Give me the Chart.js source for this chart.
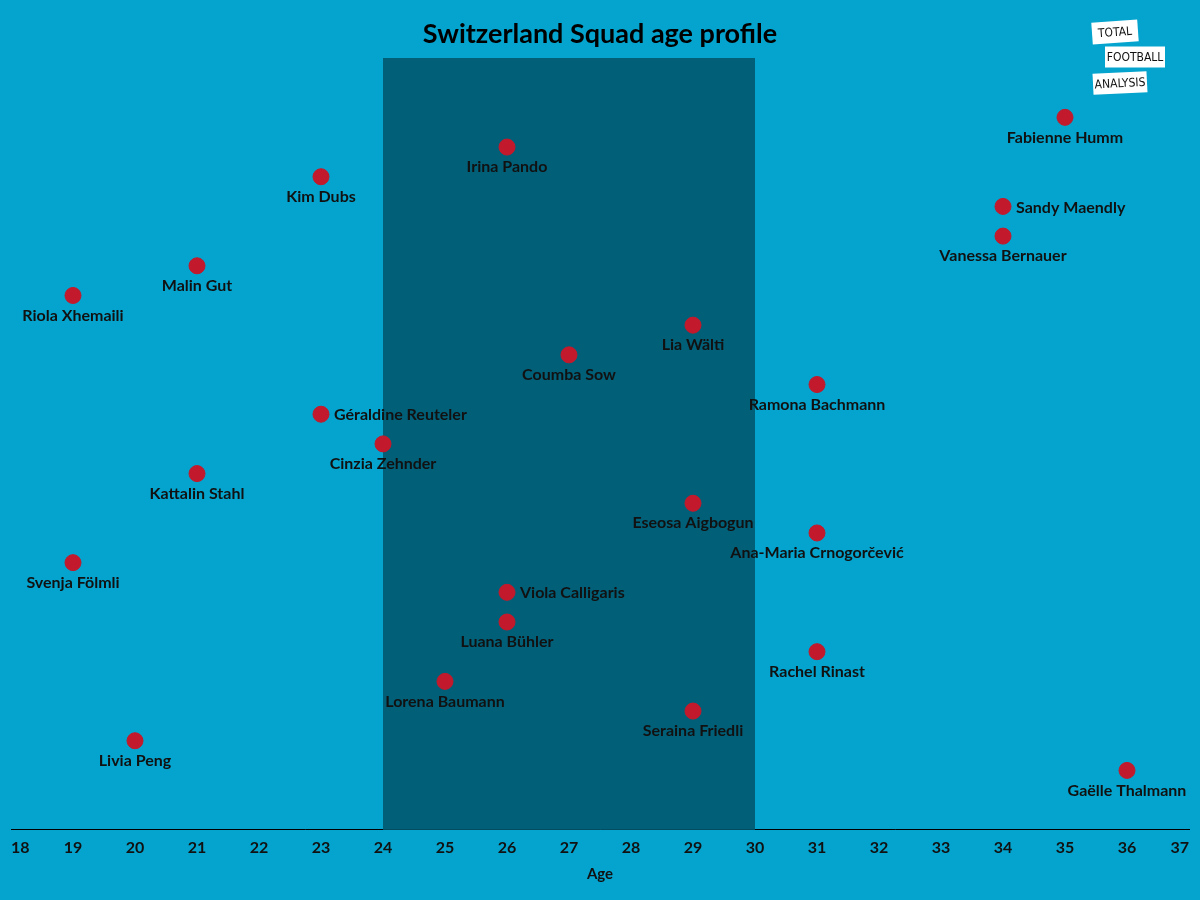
<!DOCTYPE html>
<html>
<head>
<meta charset="utf-8">
<script src="https://cdn.jsdelivr.net/npm/chart.js@4/dist/chart.umd.min.js"></script>
<style>
  html, body { margin: 0; padding: 0; background: #04A4CE; }
  #wrap { width: 1200px; height: 900px; position: relative; }
</style>
</head>
<body>
<div id="wrap"><canvas id="c" width="1200" height="900"></canvas></div>
<script>
const titleText = "Switzerland Squad age profile";
const axisTitle = "Age";
const players = ["Fabienne Humm","Irina Pando","Kim Dubs","Sandy Maendly","Vanessa Bernauer","Malin Gut","Riola Xhemaili","Lia Wälti","Coumba Sow","Ramona Bachmann","Géraldine Reuteler","Cinzia Zehnder","Kattalin Stahl","Eseosa Aigbogun","Ana-Maria Crnogorčević","Svenja Fölmli","Viola Calligaris","Luana Bühler","Rachel Rinast","Lorena Baumann","Seraina Friedli","Livia Peng","Gaëlle Thalmann"];
const ages = [35,26,23,34,34,21,19,29,27,31,23,24,21,29,31,19,26,26,31,25,29,20,36];
const rows = [22,21,20,19,18,17,16,15,14,13,12,11,10,9,8,7,6,5,4,3,2,1,0];
const labelSide = ["below","below","below","right","below","below","below","below","below","below","right","below","below","below","below","below","right","below","below","below","below","below","below"];
const primeRange = [24, 30];
const xTicks = [18,19,20,21,22,23,24,25,26,27,28,29,30,31,32,33,34,35,36,37];
const logoWords = ["TOTAL","FOOTBALL","ANALYSIS"];

const FONT = "Lato, 'Open Sans', sans-serif";

const bgPlugin = {
  id: 'bg',
  beforeDraw(chart) {
    const ctx = chart.ctx;
    ctx.save();
    ctx.fillStyle = '#04A4CE';
    ctx.fillRect(0, 0, chart.width, chart.height);
    ctx.restore();
  },
  beforeDatasetsDraw(chart) {
    const {ctx, chartArea, scales} = chart;
    const x0 = scales.x.getPixelForValue(primeRange[0]);
    const x1 = scales.x.getPixelForValue(primeRange[1]);
    ctx.save();
    ctx.fillStyle = '#025F78';
    ctx.fillRect(x0, chartArea.top, x1 - x0, chartArea.bottom - chartArea.top);
    ctx.restore();
  },
  afterDatasetsDraw(chart) {
    const ctx = chart.ctx;
    const meta = chart.getDatasetMeta(0);
    ctx.save();
    ctx.font = "bold 16px " + FONT;
    ctx.fillStyle = '#111111';
    meta.data.forEach((pt, i) => {
      if (labelSide[i] === 'right') {
        ctx.textAlign = 'left';
        ctx.textBaseline = 'middle';
        ctx.fillText(players[i], pt.x + 13, pt.y + 1);
      } else {
        ctx.textAlign = 'center';
        ctx.textBaseline = 'middle';
        ctx.fillText(players[i], pt.x, pt.y + 20);
      }
    });
    // title
    ctx.font = "bold 27px " + FONT;
    ctx.textAlign = 'center';
    ctx.textBaseline = 'middle';
    ctx.fillStyle = '#000000';
    ctx.fillText(titleText, 600, 34);
    // logo
    const boxes = [
      {x: 1115, y: 32, w: 46, h: 22, r: -0.07},
      {x: 1135, y: 57, w: 60, h: 21, r: 0},
      {x: 1120, y: 83, w: 54, h: 21, r: -0.05}
    ];
    logoWords.forEach((w, i) => {
      const b = boxes[i];
      ctx.save();
      ctx.translate(b.x, b.y);
      ctx.rotate(b.r);
      ctx.fillStyle = '#ffffff';
      ctx.fillRect(-b.w/2, -b.h/2, b.w, b.h);
      ctx.fillStyle = '#111111';
      ctx.font = "12px 'DejaVu Sans Condensed', 'Liberation Sans Narrow', sans-serif";
      ctx.textAlign = 'center';
      ctx.textBaseline = 'middle';
      ctx.fillText(w, 0, 1);
      ctx.restore();
    });
    ctx.restore();
  }
};

new Chart(document.getElementById('c'), {
  type: 'scatter',
  data: {
    datasets: [{
      data: ages.map((a, i) => ({x: a, y: rows[i]})),
      backgroundColor: '#C21A2C',
      borderColor: '#C21A2C',
      pointRadius: 8,
      pointHoverRadius: 8
    }]
  },
  options: {
    responsive: false,
    animation: false,
    events: [],
    layout: { padding: { top: 58, left: 11, right: 11, bottom: 17 } },
    plugins: { legend: { display: false }, tooltip: { enabled: false }, title: { display: false } },
    scales: {
      x: {
        type: 'linear',
        min: 18, max: 37,
        afterBuildTicks(scale) { scale.ticks = xTicks.map(v => ({value: v})); },
        grid: { display: false, drawTicks: false },
        border: { display: true, color: '#000000', width: 1 },
        ticks: {
          align: 'inner',
          padding: 8,
          color: '#111111',
          font: { family: FONT, size: 16, weight: 'bold' },
          autoSkip: false,
          maxRotation: 0
        },
        title: {
          display: true,
          text: axisTitle,
          color: '#111111',
          font: { family: FONT, size: 15, weight: 'bold' },
          padding: { top: 0, bottom: 0 }
        }
      },
      y: {
        display: false,
        min: -2, max: 24
      }
    }
  },
  plugins: [bgPlugin]
});
</script>
</body>
</html>
